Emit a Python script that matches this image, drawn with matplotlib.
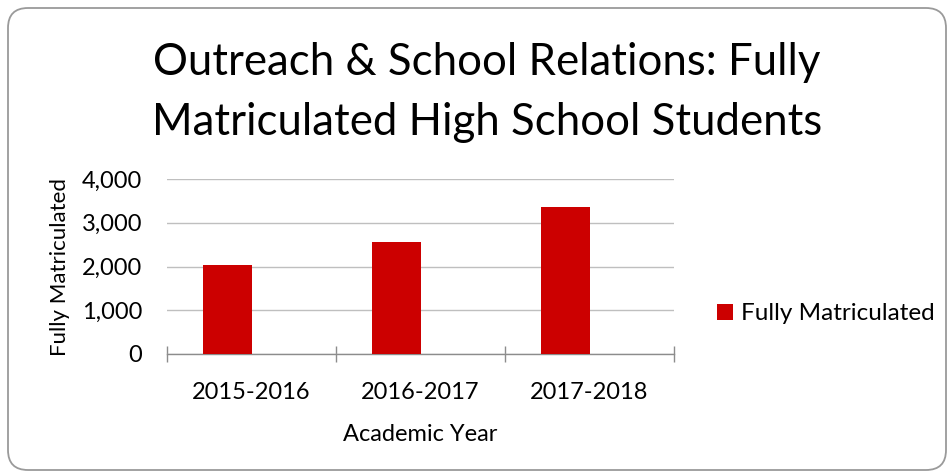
import matplotlib
matplotlib.use("Agg")
import matplotlib.pyplot as plt
from matplotlib.patches import FancyBboxPatch
from matplotlib.ticker import FuncFormatter, MultipleLocator
import numpy as np

years = ["2015-2016", "2016-2017", "2017-2018"]
matriculated = [2035, 2560, 3355]
title_lines = ["Outreach & School Relations: Fully",
               "Matriculated High School Students"]

plt.rcParams['font.family'] = ['Lato', 'DejaVu Sans']

W, H = 951, 476
fig = plt.figure(figsize=(W / 100, H / 100), dpi=100)
ax = fig.add_axes([167 / W, 1 - 354 / H, 507 / W, 175 / H])

# outer rounded frame around the whole chart
frame = FancyBboxPatch((0.08, 0.06), 9.38, 4.62,
                       boxstyle="round,pad=0,rounding_size=0.2",
                       transform=fig.dpi_scale_trans, facecolor="white",
                       edgecolor="#9a9a9a", linewidth=1.3, zorder=-10)
fig.patches.append(frame)

# two series slots per category, only the first one is filled
x = np.arange(len(years))
w = 1 / 3.5
ax.bar(x - w / 2, matriculated, width=w, color="#cc0000", zorder=3,
       label="Fully Matriculated")

ax.set_xlim(-0.5, len(years) - 0.5)
ax.set_ylim(0, 4000)
ax.yaxis.set_major_locator(MultipleLocator(1000))
ax.yaxis.set_major_formatter(FuncFormatter(lambda v, p: f"{int(v):,}"))
ax.grid(axis="y", color="#bfbfbf", linewidth=1.0, zorder=0)

ax.set_xticks(x)
ax.set_xticklabels(years)
ax.set_xticks(np.arange(-0.5, len(years), 0.5), minor=True)
ax.tick_params(axis="x", which="major", length=0, pad=20, labelsize=17)
ax.tick_params(axis="x", which="minor", direction="inout", length=12,
               color="#8c8c8c", width=1)
ax.tick_params(axis="y", length=0, pad=18, labelsize=17)

for s in ["top", "right", "left"]:
    ax.spines[s].set_visible(False)
ax.spines["bottom"].set_color("#8c8c8c")
ax.spines["bottom"].set_linewidth(1.0)

ax.set_xlabel("Academic Year", fontsize=17, labelpad=15)
ax.set_ylabel("Fully Matriculated", fontsize=16, labelpad=8)

fig.text(487 / W, 1 - 75 / H, title_lines[0], ha="center", va="baseline",
         fontsize=31.5)
fig.text(487 / W, 1 - 135 / H, title_lines[1], ha="center", va="baseline",
         fontsize=31.5)

fig.legend(loc="center left", bbox_to_anchor=(717 / W, 1 - 314 / H),
           frameon=False, fontsize=17.5, handlelength=0.64, handleheight=0.64,
           handletextpad=0.34, borderpad=0, borderaxespad=0)

fig.savefig("out.png", dpi=100)
